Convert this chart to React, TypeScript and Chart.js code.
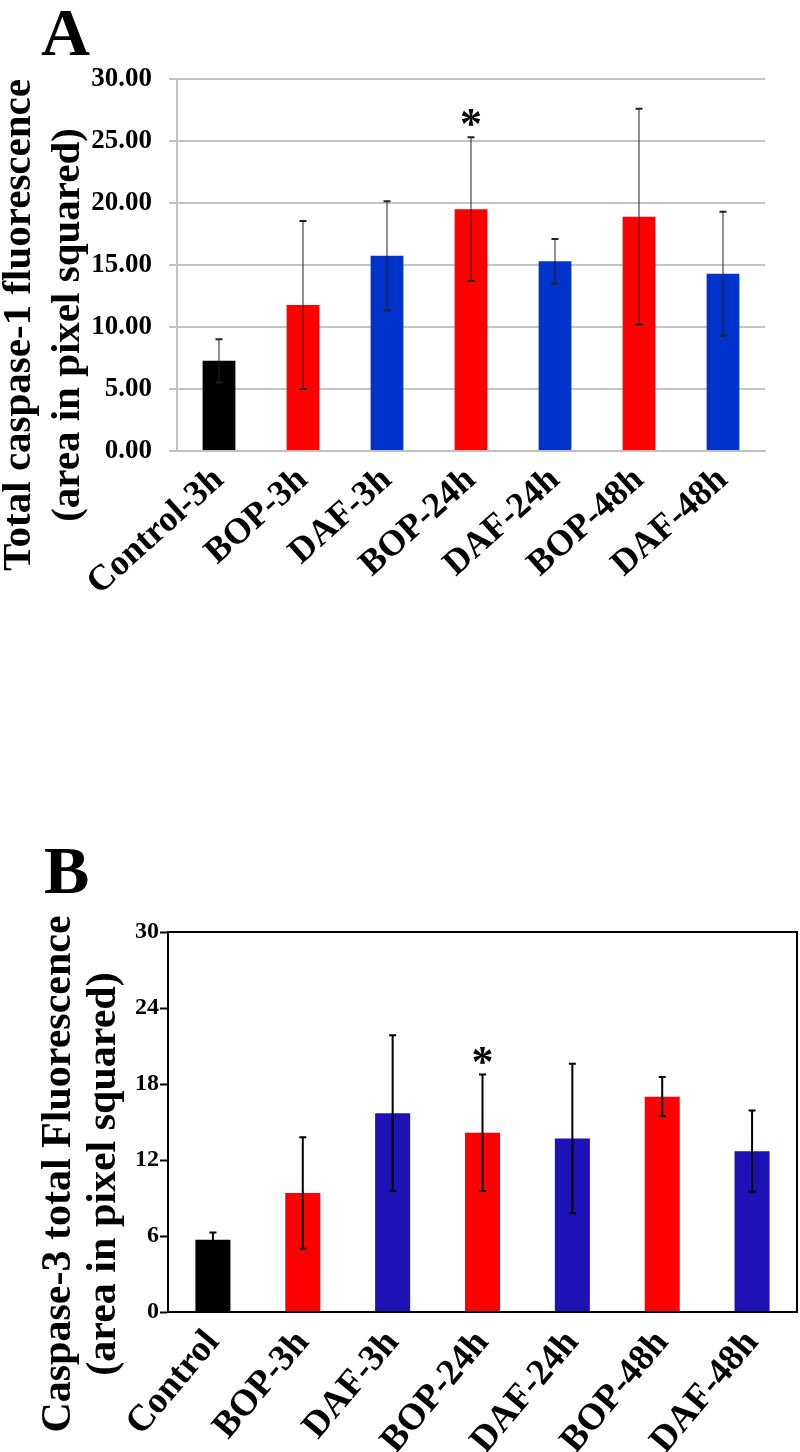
import React, { useEffect, useRef } from "react";
import { Chart, registerables } from "chart.js";
Chart.register(...registerables);

const FONT = '"Liberation Serif", "Times New Roman", serif';

// ---------- Panel A data ----------
const categoriesA = ["Control-3h", "BOP-3h", "DAF-3h", "BOP-24h", "DAF-24h", "BOP-48h", "DAF-48h"];
const valuesA = [7.27, 11.77, 15.75, 19.5, 15.3, 18.9, 14.3];
const errorsA = [1.75, 6.77, 4.4, 5.8, 1.8, 8.7, 5.0];
const colorsA = ["#000000", "#ff0000", "#0033cc", "#ff0000", "#0033cc", "#ff0000", "#0033cc"];
const yTicksA = [0, 5, 10, 15, 20, 25, 30];
const starIndexA = 3;
const titleA = ["Total caspase-1 fluorescence", "(area in pixel squared)"];

// ---------- Panel B data ----------
const categoriesB = ["Control", "BOP-3h", "DAF-3h", "BOP-24h", "DAF-24h", "BOP-48h", "DAF-48h"];
const valuesB = [5.7, 9.4, 15.7, 14.15, 13.7, 17.0, 12.7];
const errorsB = [0.57, 4.4, 6.15, 4.6, 5.9, 1.55, 3.2];
const colorsB = ["#000000", "#ff0000", "#1e11b5", "#ff0000", "#1e11b5", "#ff0000", "#1e11b5"];
const yTicksB = [0, 6, 12, 18, 24, 30];
const starIndexB = 3;
const titleB = ["Caspase-3 total Fluorescence", "(area in pixel squared)"];

type ErrCfg = {
  errors: number[];
  color: string;
  lineWidth: number;
  capWidth: number;
  capLineWidth: number;
  starIndex: number;
  starFont: string;
  frame?: boolean;
};

function makeErrorPlugin(cfg: ErrCfg) {
  return {
    id: "errorBarsCustom",
    afterDatasetsDraw(chart: any) {
      const { ctx, scales, chartArea } = chart;
      const x = scales.x;
      const y = scales.y;
      const data = chart.data.datasets[0].data as number[];
      ctx.save();
      data.forEach((v, i) => {
        const cx = x.getPixelForValue(i);
        const top = y.getPixelForValue(v + cfg.errors[i]);
        const bot = y.getPixelForValue(v - cfg.errors[i]);
        ctx.strokeStyle = cfg.color;
        ctx.lineWidth = cfg.lineWidth;
        ctx.beginPath();
        ctx.moveTo(cx, top);
        ctx.lineTo(cx, bot);
        ctx.stroke();
        ctx.lineWidth = cfg.capLineWidth;
        ctx.beginPath();
        ctx.moveTo(cx - cfg.capWidth / 2, top);
        ctx.lineTo(cx + cfg.capWidth / 2, top);
        ctx.moveTo(cx - cfg.capWidth / 2, bot);
        ctx.lineTo(cx + cfg.capWidth / 2, bot);
        ctx.stroke();
        if (i === cfg.starIndex) {
          ctx.fillStyle = "#000";
          ctx.font = cfg.starFont;
          ctx.textAlign = "center";
          ctx.textBaseline = "alphabetic";
          ctx.fillText("*", cx, top + 1);
        }
      });
      if (cfg.frame) {
        ctx.strokeStyle = "#000";
        ctx.lineWidth = 2;
        ctx.strokeRect(chartArea.left, chartArea.top, chartArea.right - chartArea.left, chartArea.bottom - chartArea.top);
      }
      ctx.restore();
    },
  };
}

function ChartA() {
  const ref = useRef<HTMLCanvasElement>(null);
  useEffect(() => {
    const chart = new Chart(ref.current as HTMLCanvasElement, {
      type: "bar",
      data: {
        labels: categoriesA,
        datasets: [
          {
            data: valuesA,
            backgroundColor: colorsA,
            borderWidth: 0,
            barPercentage: 0.39,
            categoryPercentage: 1,
          },
        ],
      },
      options: {
        responsive: false,
        animation: false,
        layout: { padding: { left: 0, right: 35, top: 79, bottom: 0 } },
        plugins: { legend: { display: false }, tooltip: { enabled: false } },
        scales: {
          x: {
            grid: { display: false },
            border: { display: true, color: "#c0c0c0", width: 2 },
            ticks: {
              autoSkip: false,
              minRotation: 42,
              maxRotation: 42,
              padding: 0,
              color: "#000",
              font: { family: FONT, size: 36, weight: "bold" },
            },
            afterFit: (s: any) => {
              s.height = 289;
            },
          },
          y: {
            min: 0,
            max: 30,
            afterBuildTicks: (s: any) => {
              s.ticks = yTicksA.map((v) => ({ value: v }));
            },
            ticks: {
              callback: (v: any) => Number(v).toFixed(2),
              padding: 17,
              color: "#000",
              font: { family: FONT, size: 27, weight: "bold" },
            },
            grid: { color: "#c4c4c4", lineWidth: 2, tickLength: 8, drawTicks: true },
            border: { display: true, color: "#c4c4c4", width: 2 },
            afterFit: (s: any) => {
              s.width = 177;
            },
          },
        },
      } as any,
      plugins: [
        makeErrorPlugin({
          errors: errorsA,
          color: "#222",
          lineWidth: 1,
          capWidth: 7,
          capLineWidth: 2,
          starIndex: starIndexA,
          starFont: `bold 44px ${FONT}`,
        }),
      ],
    });
    return () => chart.destroy();
  }, []);
  return <canvas ref={ref} width={800} height={740} style={{ display: "block" }} />;
}

function ChartB() {
  const ref = useRef<HTMLCanvasElement>(null);
  useEffect(() => {
    const chart = new Chart(ref.current as HTMLCanvasElement, {
      type: "bar",
      data: {
        labels: categoriesB,
        datasets: [
          {
            data: valuesB,
            backgroundColor: colorsB,
            borderWidth: 0,
            barPercentage: 0.39,
            categoryPercentage: 1,
          },
        ],
      },
      options: {
        responsive: false,
        animation: false,
        layout: { padding: { left: 0, right: 3, top: 92, bottom: 0 } },
        plugins: { legend: { display: false }, tooltip: { enabled: false } },
        scales: {
          x: {
            grid: { display: false },
            border: { display: true, color: "#000", width: 2 },
            ticks: {
              autoSkip: false,
              minRotation: 50,
              maxRotation: 50,
              padding: 2,
              color: "#000",
              font: { family: FONT, size: 37, weight: "bold" },
            },
            afterFit: (s: any) => {
              s.height = 140;
            },
          },
          y: {
            min: 0,
            max: 30,
            afterBuildTicks: (s: any) => {
              s.ticks = yTicksB.map((v) => ({ value: v }));
            },
            ticks: {
              padding: 1,
              color: "#000",
              font: { family: FONT, size: 24, weight: "bold" },
            },
            grid: { drawOnChartArea: false, drawTicks: true, tickLength: 8, color: "#000", tickWidth: 2 },
            border: { display: true, color: "#000", width: 2 },
            afterFit: (s: any) => {
              s.width = 168;
            },
          },
        },
      } as any,
      plugins: [
        makeErrorPlugin({
          errors: errorsB,
          color: "#000",
          lineWidth: 2,
          capWidth: 7,
          capLineWidth: 2,
          starIndex: starIndexB,
          starFont: `bold 44px ${FONT}`,
          frame: true,
        }),
      ],
    });
    return () => chart.destroy();
  }, []);
  return <canvas ref={ref} width={800} height={612} style={{ display: "block" }} />;
}

function RotTitle(props: { lines: string[]; cx: number; cy: number; size: number; lh: number }) {
  const W = 700;
  const H = props.lh * props.lines.length;
  return (
    <div
      style={{
        position: "absolute",
        left: props.cx - W / 2,
        top: props.cy - H / 2,
        width: W,
        height: H,
        transform: "rotate(-90deg)",
        textAlign: "center",
        fontFamily: FONT,
        fontWeight: "bold",
        fontSize: props.size,
        lineHeight: `${props.lh}px`,
        color: "#000",
        whiteSpace: "nowrap",
      }}
    >
      {props.lines.map((l, i) => (
        <div key={i}>{l}</div>
      ))}
    </div>
  );
}

export default function App() {
  const letter: React.CSSProperties = {
    position: "absolute",
    fontFamily: FONT,
    fontWeight: "bold",
    fontSize: 68,
    lineHeight: "68px",
    color: "#000",
  };
  return (
    <div style={{ position: "absolute", left: 0, top: 0, width: 800, height: 1452, background: "#fff", overflow: "hidden" }}>
      <div style={{ position: "absolute", left: 0, top: 0 }}>
        <ChartA />
      </div>
      <div style={{ position: "absolute", left: 0, top: 840 }}>
        <ChartB />
      </div>
      <div style={{ ...letter, left: 41, top: -2 }}>A</div>
      <div style={{ ...letter, left: 44, top: 836 }}>B</div>
      <RotTitle lines={titleA} cx={40.7} cy={325} size={41} lh={49} />
      <RotTitle lines={titleB} cx={79.3} cy={1174} size={42} lh={45} />
    </div>
  );
}
